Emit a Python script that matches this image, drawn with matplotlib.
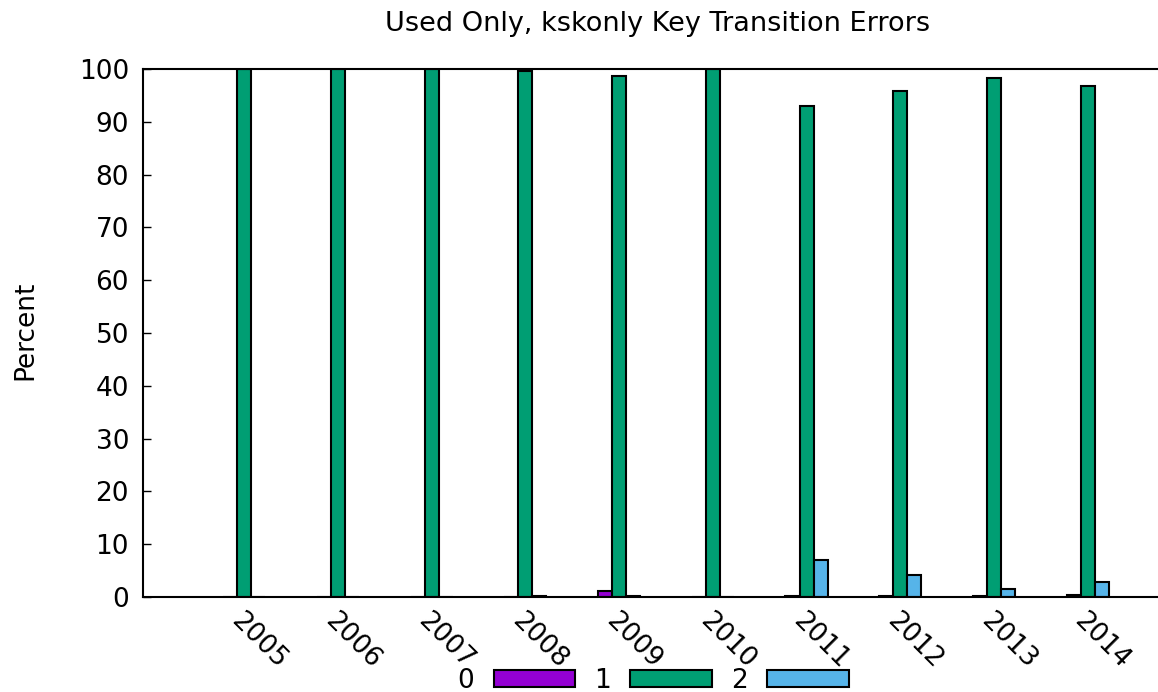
import numpy as np
import matplotlib
matplotlib.use("Agg")
import matplotlib.pyplot as plt

years = ["2005", "2006", "2007", "2008", "2009", "2010", "2011", "2012", "2013", "2014"]
s0 = [0, 0, 0, 0, 1.2, 0, 0.2, 0.2, 0.2, 0.3]
s1 = [100, 100, 100, 99.7, 98.7, 100, 92.9, 95.8, 98.2, 96.8]
s2 = [0, 0, 0, 0.2, 0.2, 0, 7.0, 4.2, 1.6, 2.9]
labels = ["0", "1", "2"]
colors = ["#9400d3", "#009e73", "#56b4e9"]

fig = plt.figure(figsize=(11.58, 6.92), dpi=100)
ax = fig.add_axes([0.1235, 0.1373, 0.8765, 0.763])

x = np.arange(len(years))
w = 0.15
for i, (vals, lab, c) in enumerate(zip([s0, s1, s2], labels, colors)):
    ax.bar(x + (i - 1) * w, vals, w, color=c, edgecolor="black", linewidth=1.5, label=lab)

ax.set_xlim(-1.08, 9.75)
ax.set_ylim(0, 100)
ax.set_yticks(range(0, 101, 10))
ax.tick_params(axis="y", direction="in", length=6, labelsize=19, width=1, pad=10)
ax.set_xticks(x)
ax.set_xticklabels(years, rotation=-45, ha="left", rotation_mode="anchor", fontsize=19)
ax.tick_params(axis="x", length=0, pad=8)
ax.spines["right"].set_visible(False)
for s in ["top", "left", "bottom"]:
    ax.spines[s].set_linewidth(1.5)

fig.text(0.022, 0.522, "Percent", fontsize=19, rotation=90, ha="center", va="center")
fig.text(0.568, 0.966, "Used Only, kskonly Key Transition Errors", fontsize=19.5, ha="center", va="center")

ax.legend(loc="center", bbox_to_anchor=(0.564, 0.016), bbox_transform=fig.transFigure,
          ncol=3, frameon=False, markerfirst=False, fontsize=19,
          handlelength=3.1, handleheight=0.6, columnspacing=0.7, handletextpad=0.75,
          borderpad=0, borderaxespad=0)

fig.savefig("out.png", dpi=100)
